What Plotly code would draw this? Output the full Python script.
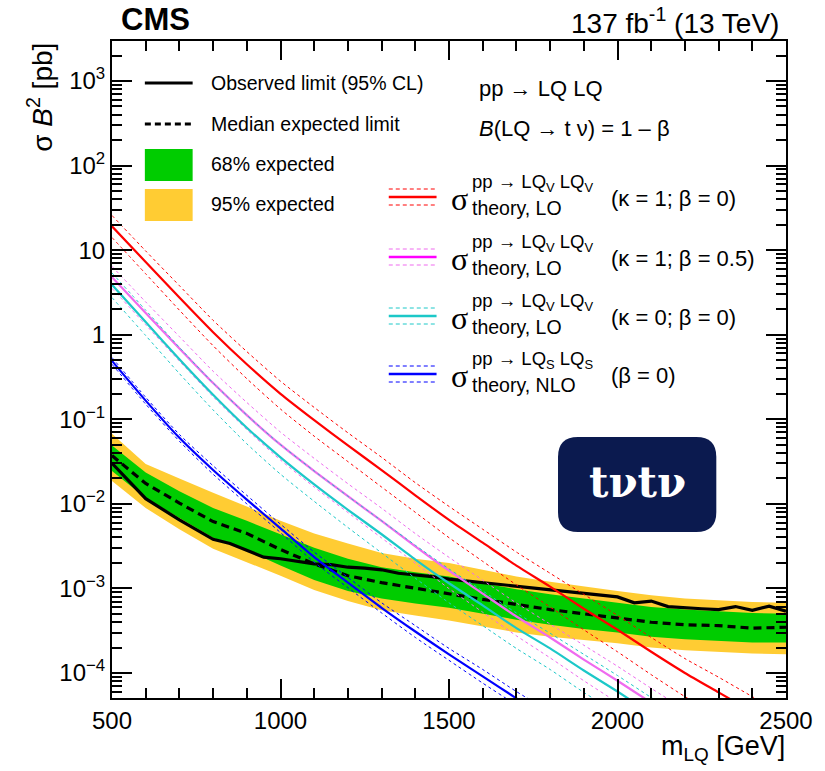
import plotly.graph_objects as go

# ---------------- data ----------------
mass = [500, 600, 700, 800, 900, 1000, 1100, 1200, 1300, 1400, 1500,
        1600, 1700, 1800, 1900, 2000, 2100, 2200, 2300, 2400, 2500]

obs_mass = [500, 600, 700, 800, 850, 900, 950, 1000, 1050, 1100, 1150, 1200,
            1250, 1300, 1350, 1400, 1450, 1500, 1600, 1700, 1800, 1900, 1950,
            2000, 2050, 2100, 2150, 2200, 2250, 2300, 2350, 2400, 2450, 2500]
obs_limit = [0.0302, 0.0115, 0.00646, 0.00380, 0.00339, 0.00282, 0.00234, 0.00224,
             0.00209, 0.00195, 0.00191, 0.00178, 0.00174, 0.00166, 0.00151, 0.00145,
             0.00138, 0.00129, 0.00117, 0.00107, 0.000955, 0.000871, 0.000832,
             0.000794, 0.000676, 0.000708, 0.000610, 0.000589, 0.000575, 0.000562,
             0.000610, 0.000550, 0.000617, 0.000537]

exp_limit = [0.0372, 0.0174, 0.0102, 0.00617, 0.00447, 0.00288, 0.00195, 0.00141,
             0.00117, 0.00100, 0.000851, 0.000741, 0.000646, 0.000562, 0.000501,
             0.000447, 0.000398, 0.000372, 0.000363, 0.000339, 0.000347]
exp68_up = [0.0490, 0.0234, 0.0141, 0.00891, 0.00631, 0.00437, 0.00302, 0.00224,
            0.00178, 0.00155, 0.00138, 0.00115, 0.000977, 0.000851, 0.000759,
            0.000676, 0.000603, 0.000562, 0.000537, 0.000513, 0.000501]
exp68_lo = [0.0245, 0.0117, 0.00676, 0.00398, 0.00282, 0.00186, 0.00126, 0.000933,
            0.000759, 0.000661, 0.000589, 0.000501, 0.000427, 0.000372, 0.000331,
            0.000302, 0.000269, 0.000251, 0.000240, 0.000229, 0.000229]
exp95_up = [0.0676, 0.0295, 0.0200, 0.0135, 0.00933, 0.00631, 0.00447, 0.00339,
            0.00263, 0.00224, 0.00200, 0.00166, 0.00138, 0.00120, 0.00105,
            0.000933, 0.000832, 0.000759, 0.000724, 0.000692, 0.000676]
exp95_lo = [0.0186, 0.00891, 0.00501, 0.00295, 0.00204, 0.00141, 0.000955, 0.000708,
            0.000550, 0.000479, 0.000417, 0.000355, 0.000302, 0.000269, 0.000245,
            0.000224, 0.000200, 0.000186, 0.000178, 0.000170, 0.000166]

# vector LQ, kappa=1, beta=0 (LO)
xs_k1 = [19.1, 7.24, 2.75, 1.07, 0.447, 0.200, 0.0977, 0.0490, 0.0251, 0.0126, 0.00646,
         0.00347, 0.00186, 0.00105, 0.000575, 0.000324, 0.000178, 0.000100, 5.89e-5,
         3.47e-5, 2.04e-5]
xs_k1_up = [25.7, 9.77, 3.80, 1.48, 0.631, 0.282, 0.138, 0.0692, 0.0355, 0.0178, 0.00933,
            0.00501, 0.00269, 0.00151, 0.000851, 0.000479, 0.000263, 0.000148, 8.91e-5,
            5.25e-5, 3.09e-5]
xs_k1_lo = [14.1, 5.25, 1.95, 0.741, 0.302, 0.132, 0.0631, 0.0316, 0.0158, 0.00794, 0.00398,
            0.00209, 0.00110, 0.000603, 0.000324, 0.000178, 9.55e-5, 5.25e-5, 3.02e-5,
            1.74e-5, 1.00e-5]
# vector LQ, kappa=1, beta=0.5 (LO)
xs_k1b = [4.78, 1.81, 0.688, 0.268, 0.112, 0.0500, 0.0244, 0.0123, 0.00628, 0.00315, 0.00162,
          0.000868, 0.000465, 0.000263, 0.000144, 8.1e-5, 4.45e-5, 2.5e-5, 1.47e-5, 8.68e-6,
          5.1e-6]
xs_k1b_up = [6.43, 2.44, 0.95, 0.37, 0.158, 0.0705, 0.0345, 0.0173, 0.00888, 0.00445, 0.00233,
             0.00125, 0.000673, 0.000378, 0.000213, 0.00012, 6.58e-5, 3.7e-5, 2.23e-5,
             1.31e-5, 7.73e-6]
xs_k1b_lo = [3.53, 1.31, 0.488, 0.185, 0.0755, 0.033, 0.0158, 0.0079, 0.00395, 0.00199,
             0.000995, 0.000523, 0.000275, 0.000151, 8.1e-5, 4.45e-5, 2.39e-5, 1.31e-5,
             7.55e-6, 4.35e-6, 2.5e-6]
# vector LQ, kappa=0, beta=0 (LO)
xs_k0 = [3.89, 1.41, 0.513, 0.195, 0.0794, 0.0355, 0.0170, 0.00851, 0.00437, 0.00219,
         0.00115, 0.000631, 0.000339, 0.000195, 0.000107, 6.03e-5, 3.31e-5, 1.86e-5,
         1.10e-5, 6.46e-6, 3.80e-6]
xs_k0_up = [5.37, 1.95, 0.708, 0.269, 0.112, 0.0501, 0.0245, 0.0123, 0.00631, 0.00324,
            0.00170, 0.000933, 0.000513, 0.000295, 0.000166, 9.33e-5, 5.13e-5, 2.95e-5,
            1.74e-5, 1.02e-5, 6.03e-6]
xs_k0_lo = [2.75, 0.977, 0.347, 0.129, 0.0513, 0.0224, 0.0107, 0.00525, 0.00263, 0.00132,
            0.000676, 0.000363, 0.000195, 0.000110, 5.89e-5, 3.31e-5, 1.78e-5, 1.00e-5,
            5.75e-6, 3.39e-6, 2.00e-6]
# scalar LQ, beta=0 (NLO)
xs_s = [0.490, 0.166, 0.0603, 0.0251, 0.0112, 0.00513, 0.00234, 0.00117, 0.000589,
        0.000309, 0.000166, 9.12e-5, 5.01e-5, 2.82e-5, 1.58e-5, 8.91e-6, 5.01e-6,
        2.82e-6, 1.58e-6, 8.91e-7, 5.01e-7]
xs_s_up = [0.537, 0.182, 0.0661, 0.0282, 0.0126, 0.00575, 0.00269, 0.00135, 0.000676,
           0.000363, 0.000195, 0.000110, 6.03e-5, 3.47e-5, 1.95e-5, 1.12e-5, 6.31e-6,
           3.55e-6, 2.00e-6, 1.12e-6, 6.31e-7]
xs_s_lo = [0.447, 0.151, 0.0550, 0.0224, 0.0100, 0.00457, 0.00204, 0.00102, 0.000513,
           0.000263, 0.000141, 7.59e-5, 4.17e-5, 2.29e-5, 1.29e-5, 7.08e-6, 3.98e-6,
           2.24e-6, 1.26e-6, 7.08e-7, 3.98e-7]

x_ticks = [500, 1000, 1500, 2000, 2500]
y_ticks = [1e-4, 1e-3, 1e-2, 1e-1, 1, 10, 100, 1000]
y_ticktext = ["10<sup>\u22124</sup>", "10<sup>\u22123</sup>", "10<sup>\u22122</sup>",
              "10<sup>\u22121</sup>", "1", "10", "10<sup>2</sup>", "10<sup>3</sup>"]

# ---------------- styling ----------------
W, H = 825, 771
L, R, T, B = 112, 789, 41, 698
FONT = "Liberation Sans"
SERIF = "Liberation Serif"
GREEN = "#00cc00"
YELLOW = "#ffcc33"
RED = "#ff0000"
MAG_CURVE = "#ef6bef"
MAG = "#ff00ff"
CYAN = "#1cc8c8"
BLUE = "#0000ff"


def fx(p):
    return (p - L) / (R - L)


def fy(p):
    return (B - p) / (B - T)


fig = go.Figure()

# bands
fig.add_trace(go.Scatter(x=mass + mass[::-1], y=exp95_up + exp95_lo[::-1], fill="toself",
                         fillcolor=YELLOW, line=dict(width=0), mode="lines", hoverinfo="skip"))
fig.add_trace(go.Scatter(x=mass + mass[::-1], y=exp68_up + exp68_lo[::-1], fill="toself",
                         fillcolor=GREEN, line=dict(width=0), mode="lines", hoverinfo="skip"))
fig.add_trace(go.Scatter(x=mass, y=exp_limit, mode="lines",
                         line=dict(color="black", width=3.2, dash="8px,5px")))
fig.add_trace(go.Scatter(x=obs_mass, y=obs_limit, mode="lines",
                         line=dict(color="black", width=3.2)))

# theory curves
for central, up, lo, col in [(xs_k1, xs_k1_up, xs_k1_lo, RED),
                             (xs_k1b, xs_k1b_up, xs_k1b_lo, MAG_CURVE),
                             (xs_k0, xs_k0_up, xs_k0_lo, CYAN),
                             (xs_s, xs_s_up, xs_s_lo, BLUE)]:
    for arr in (up, lo):
        fig.add_trace(go.Scatter(x=mass, y=arr, mode="lines",
                                 line=dict(color=col, width=1, dash="3px,3px",
                                           shape="spline", smoothing=0.6)))
    fig.add_trace(go.Scatter(x=mass, y=central, mode="lines",
                             line=dict(color=col, width=2.2, shape="spline",
                                       smoothing=0.6)))

shapes = []
annotations = []


def text(x, y, s, size=20, anchor="left", family=FONT, yanchor="middle", **kw):
    annotations.append(dict(x=fx(x), y=fy(y), xref="paper", yref="paper", text=s,
                            showarrow=False, xanchor=anchor, yanchor=yanchor,
                            font=dict(family=family, size=size, color="black"), **kw))


def hline(x0, x1, y, color, width, dash="solid"):
    shapes.append(dict(type="line", xref="paper", yref="paper", x0=fx(x0), x1=fx(x1),
                       y0=fy(y), y1=fy(y), line=dict(color=color, width=width, dash=dash)))


def box(x0, x1, y0, y1, color):
    shapes.append(dict(type="rect", xref="paper", yref="paper", x0=fx(x0), x1=fx(x1),
                       y0=fy(y1), y1=fy(y0), fillcolor=color, line=dict(width=0)))


# left legend
hline(145, 193, 83, "black", 3)
hline(145, 193, 124, "black", 3, "6px,4px")
box(145, 193, 149, 181, GREEN)
box(145, 193, 189, 221, YELLOW)
text(209, 83, "Observed limit (95% CL)", 19.5)
text(209, 124, "Median expected limit", 19.5)
text(209, 164, "68% expected", 19.5)
text(209, 204, "95% expected", 19.5)

# process text
text(479, 88, "pp \u2192 LQ LQ", 22)
text(479, 128, "<i>B</i>(LQ \u2192 t \u03bd) = 1 \u2013 \u03b2", 22)

# theory legend
rows = [(197, RED, RED, "LQ<sub>V</sub> LQ<sub>V</sub>", "theory, LO", "(\u03ba = 1; \u03b2 = 0)"),
        (257, MAG, MAG_CURVE, "LQ<sub>V</sub> LQ<sub>V</sub>", "theory, LO", "(\u03ba = 1; \u03b2 = 0.5)"),
        (316, CYAN, CYAN, "LQ<sub>V</sub> LQ<sub>V</sub>", "theory, LO", "(\u03ba = 0; \u03b2 = 0)"),
        (374, BLUE, BLUE, "LQ<sub>S</sub> LQ<sub>S</sub>", "theory, NLO", "(\u03b2 = 0)")]
for y, c, cd, sup, sub, par in rows:
    hline(390, 438, y, c, 2.5)
    hline(390, 438, y - 8, cd, 1, "4px,3px")
    hline(390, 438, y + 8, cd, 1, "4px,3px")
    text(451, y + 2, "\u03c3", 32, family=SERIF)
    text(472, y - 14, "pp \u2192 " + sup, 18.5)
    text(472, y + 11, sub, 19.5)
    text(611, y + 1, par, 22)

# logo
x0, x1, y0, y1 = fx(560), fx(719), fy(532), fy(437)
rx, ry = 20 / (R - L), 20 / (B - T)
path = (f"M {x0+rx},{y0} L {x1-rx},{y0} Q {x1},{y0} {x1},{y0+ry} L {x1},{y1-ry} "
        f"Q {x1},{y1} {x1-rx},{y1} L {x0+rx},{y1} Q {x0},{y1} {x0},{y1-ry} "
        f"L {x0},{y0+ry} Q {x0},{y0} {x0+rx},{y0} Z")
shapes.append(dict(type="path", xref="paper", yref="paper", path=path,
                   fillcolor="#0b1a4f", line=dict(width=0)))
annotations.append(dict(x=fx(640), y=fy(482), xref="paper", yref="paper",
                        text="<b>t\u03bdt\u03bd</b>", showarrow=False,
                        xanchor="center", yanchor="middle",
                        font=dict(family="DejaVu Serif", size=42, color="white")))

# header texts
text(119, 20, "<b>CMS</b>", 31)
text(784, 21, "137 fb<sup>-1</sup> (13 TeV)", 28, anchor="right")

# axis titles
text(790, 748, "m<sub>LQ</sub> [GeV]", 27, anchor="right")
annotations.append(dict(x=fx(39), y=1.0, xref="paper", yref="paper",
                        text="\u03c3 <i>B</i><sup>2</sup> [pb]", textangle=-90,
                        showarrow=False, xanchor="center", yanchor="top",
                        font=dict(family=FONT, size=28, color="black")))

minor_y = [k * 10.0 ** e for e in range(-5, 4) for k in range(2, 10)]

fig.update_layout(
    width=W, height=H,
    margin=dict(l=L, r=W - R, t=T, b=H - B, pad=0),
    paper_bgcolor="white", plot_bgcolor="white",
    showlegend=False,
    shapes=shapes, annotations=annotations,
    xaxis=dict(range=[500, 2500], tickvals=x_ticks, ticks="inside", ticklen=19,
               tickwidth=1.5, tickcolor="black", showline=True, linecolor="black",
               linewidth=2, mirror="allticks", showgrid=False, zeroline=False,
               tickfont=dict(family=FONT, size=24, color="black"),
               minor=dict(dtick=100, ticks="inside", ticklen=10, tickwidth=1.5,
                          tickcolor="black", showgrid=False)),
    yaxis=dict(type="log", range=[-4.296, 3.473], tickvals=y_ticks, ticktext=y_ticktext,
               ticks="inside", ticklen=20, tickwidth=1.5, tickcolor="black",
               showline=True, linecolor="black", linewidth=2, mirror="allticks",
               showgrid=False, zeroline=False,
               tickfont=dict(family=FONT, size=24, color="black"),
               minor=dict(tickvals=minor_y, ticks="inside", ticklen=10, tickwidth=1.5,
                          tickcolor="black", showgrid=False)),
)

fig.write_html("out.html")
